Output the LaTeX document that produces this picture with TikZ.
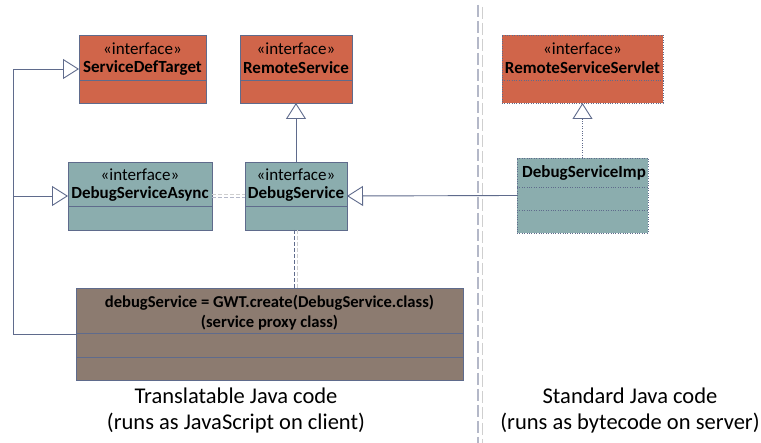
\documentclass[tikz,border=0pt]{standalone}
\usepackage{fontspec}
\setmainfont{Carlito}
\usetikzlibrary{arrows.meta}
\definecolor{cOrange}{HTML}{D0654A}
\definecolor{cTeal}{HTML}{8BADAE}
\definecolor{cBrown}{HTML}{8C7B70}
\definecolor{cLine}{HTML}{5F6B8C}
\definecolor{cGray}{HTML}{B4B8C8}
\definecolor{cLight}{HTML}{CFCFCF}
\tikzset{
  boxn/.style={draw=cLine, line width=0.9pt, inner sep=0pt, outer sep=0pt, anchor=north west},
  dotbox/.style={boxn, dash pattern=on 1pt off 1.4pt},
  divl/.style={draw=cLine, line width=0.9pt},
  divd/.style={divl, dash pattern=on 1pt off 1.4pt},
  conn/.style={draw=cLine, line width=0.9pt},
  tri/.style={-{Triangle[open, length=16pt, width=20pt, fill=white, line width=0.9pt]}},
  stereo/.style={font=\fontsize{17}{19}\selectfont, inner sep=0pt},
  cname/.style={font=\fontsize{17}{19}\selectfont\bfseries, inner sep=0pt},
  ptext/.style={font=\fontsize{16.6}{20.5}\selectfont\bfseries, inner sep=0pt, align=center},
  big/.style={font=\fontsize{22.5}{26}\selectfont, inner sep=0pt, align=center},
}
\begin{document}
\begin{tikzpicture}[x=1pt, y=-1pt]
\useasboundingbox[fill=white] (0,0) rectangle (761,443);

% separator
\draw[cGray, line width=2pt, dash pattern=on 12pt off 4pt] (478,5) -- (478,443);
\draw[cLight, line width=1pt, dash pattern=on 12pt off 4pt] (482,7) -- (482,443);

% ServiceDefTarget
\node[boxn, fill=cOrange, minimum width=127pt, minimum height=68pt] (sdt) at (79,35) {};
\draw[divl] (79,80) -- (206,80);
\node[stereo] (sdt1) at (142.5,49) {«interface»};
\node[cname] (sdt2) at (142.5,68) {ServiceDefTarget};

% RemoteService
\node[boxn, fill=cOrange, minimum width=112pt, minimum height=68pt] (rs) at (240,35) {};
\draw[divl] (240,80) -- (352,80);
\node[stereo] (rs1) at (296,49) {«interface»};
\node[cname] (rs2) at (296,68) {RemoteService};

% RemoteServiceServlet
\node[dotbox, fill=cOrange, minimum width=161pt, minimum height=68pt] (rss) at (502,35) {};
\draw[divd] (502,80) -- (663,80);
\node[stereo] (rss1) at (582.5,49) {«interface»};
\node[cname] (rss2) at (582.5,68) {RemoteServiceServlet};

% DebugServiceAsync
\node[boxn, fill=cTeal, minimum width=144pt, minimum height=68pt] (dsa) at (68,162) {};
\draw[divl] (68,206) -- (212,206);
\node[stereo] (dsa1) at (140,175) {«interface»};
\node[cname] (dsa2) at (140,194) {DebugServiceAsync};

% DebugService
\node[boxn, fill=cTeal, minimum width=102pt, minimum height=68pt] (ds) at (245,162) {};
\draw[divl] (245,206) -- (347,206);
\node[stereo] (ds1) at (296,175) {«interface»};
\node[cname] (ds2) at (296,194) {DebugService};

% DebugServiceImp
\node[dotbox, fill=cTeal, minimum width=131pt, minimum height=75pt] (imp) at (517,158) {};
\draw[divd] (517,187) -- (648,187);
\draw[divd] (517,210) -- (648,210);
\node[cname, anchor=west] (imp1) at (522,173) {DebugServiceImp};

% proxy
\node[boxn, fill=cBrown, minimum width=387pt, minimum height=92pt] (prx) at (76,288) {};
\draw[divl] (76,333) -- (463,333);
\draw[divl] (76,357) -- (463,357);
\node[ptext] (prx1) at (269.5,312.5) {debugService = GWT.create(DebugService.class)\\(service proxy class)};

% bottom labels
\node[big] (lbl1) at (236,411) {Translatable Java code\\(runs as JavaScript on client)};
\node[big] (lbl2) at (630,411) {Standard Java code\\(runs as bytecode on server)};

% connectors
\coordinate (lc) at (13,0);
\draw[conn, tri] (prx.west) -| (lc |- sdt.west) -- (sdt.west);
\draw[conn, tri] (lc |- dsa.west) -- (dsa.west);
\draw[conn, tri] (ds.north) -- (rs.south);
\draw[conn, tri] (imp.west) -- (ds.east);
\draw[conn, tri, dash pattern=on 1pt off 1.4pt] (imp.north) -- (rss.south);
% dashed dependency lines
\draw[cGray, line width=1pt, dash pattern=on 4pt off 2pt] ([yshift=-1.5pt]dsa.east) -- ([yshift=-1.5pt]ds.west);
\draw[cLight, line width=1pt, dash pattern=on 4pt off 2pt] ([yshift=1.5pt]dsa.east) -- ([yshift=1.5pt]ds.west);
\draw[cLine, line width=0.9pt, dash pattern=on 4pt off 2pt] ([xshift=-1.5pt]ds.south) -- ([xshift=-1.5pt]ds.south |- prx.north);
\draw[cLight, line width=1pt, dash pattern=on 4pt off 2pt] ([xshift=1.5pt]ds.south) -- ([xshift=1.5pt]ds.south |- prx.north);
\end{tikzpicture}
\end{document}
